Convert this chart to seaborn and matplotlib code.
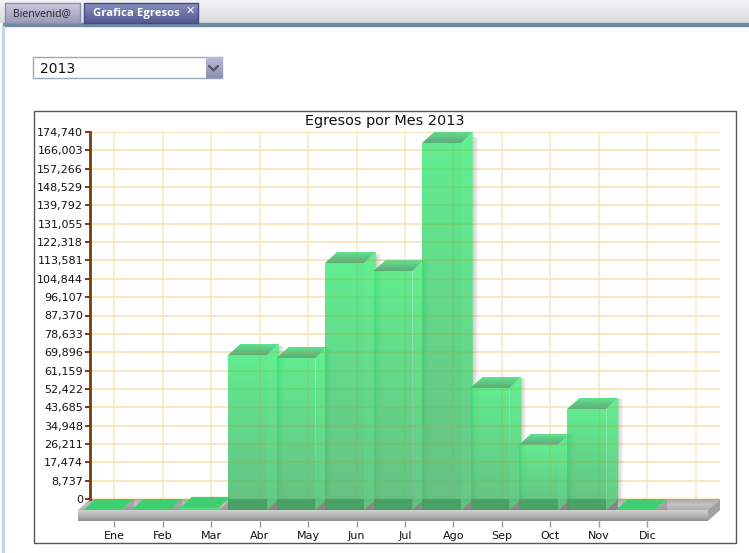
import numpy as np
import pandas as pd
import matplotlib
matplotlib.use("Agg")
import matplotlib.pyplot as plt
from matplotlib.patches import Polygon, Rectangle
from matplotlib.transforms import Affine2D
import seaborn as sns

# data
meses = ["Ene", "Feb", "Mar", "Abr", "May", "Jun", "Jul", "Ago", "Sep", "Oct", "Nov", "Dic"]
egresos = [0, 0, 1000, 73800, 72400, 117600, 113800, 174740, 58100, 31000, 48100, 0]
y_ticks = [0, 8737, 17474, 26211, 34948, 43685, 52422, 61159, 69896, 78633, 87370,
           96107, 104844, 113581, 122318, 131055, 139792, 148529, 157266, 166003, 174740]

W, H = 749, 553
sns.set_style("white")
plt.rcParams["font.family"] = ["DejaVu Sans"]
fig = plt.figure(figsize=(W / 100, H / 100), dpi=100)

# =====================================================
# PAGE CHROME (pixel coordinates)
# =====================================================
bg = fig.add_axes([0, 0, 1, 1], zorder=0)
bg.set_xlim(0, W)
bg.set_ylim(H, 0)
bg.axis("off")


def vgrad(a, x0, x1, y0, y1, c0, c1, z=1, n=32):
    c0 = np.array(matplotlib.colors.to_rgb(c0))
    c1 = np.array(matplotlib.colors.to_rgb(c1))
    t = np.linspace(0, 1, n)[:, None, None]
    img = c0[None, None, :] * (1 - t) + c1[None, None, :] * t
    return a.imshow(img, extent=[x0, x1, y1, y0], aspect="auto", origin="upper", zorder=z)


vgrad(bg, 0, W, 0, 23, "#f2f3f5", "#d9dbde")
bg.add_patch(Rectangle((3, 23), W, 3, color="#6f8ba3", zorder=2))
bg.add_patch(Rectangle((2, 26), 2, H, color="#c5d5e4", zorder=2))
vgrad(bg, 5, 80, 3, 23, "#c9cadb", "#9a9bbb", z=2)
bg.add_patch(Rectangle((5, 3), 75, 20, fill=False, ec="#8a8fa8", lw=1, zorder=3))
vgrad(bg, 84, 198, 3, 23, "#8a8fc0", "#55598f", z=2)
bg.add_patch(Rectangle((84, 3), 114, 20, fill=False, ec="#434a86", lw=1, zorder=3))
bg.text(42, 14, "Bienvenid@", fontsize=7.6, family="Open Sans", color="#222222",
        ha="center", va="center", zorder=4)
bg.text(136.5, 13.5, "Grafica Egresos", fontsize=8.2, family="Open Sans", weight="bold",
        color="white", ha="center", va="center", zorder=4)
bg.text(190.5, 10.5, "✕", fontsize=8, weight="bold", color="white", ha="center", va="center", zorder=4)

bg.add_patch(Rectangle((33, 57), 189, 21, fc="white", ec="#9aa9bc", lw=1, zorder=2))
vgrad(bg, 205.5, 222, 57.5, 78, "#b9bbd3", "#8e90b4", z=3)
bg.plot([209, 213.5, 218], [66, 70.5, 66], color="#555566", lw=1.6, zorder=4)
bg.text(40, 69, "2013", fontsize=10, color="#111111", ha="left", va="center", zorder=4)

bg.add_patch(Rectangle((34, 110.5), 702, 432, fc="white", ec="#555555", lw=1, zorder=2))
bg.set_xlim(0, W)
bg.set_ylim(H, 0)

# =====================================================
# CHART
# =====================================================
PX_L, PX_R, PX_T, PX_B = 90, 720, 132, 499
ax = fig.add_axes([PX_L / W, 1 - PX_B / H, (PX_R - PX_L) / W, (PX_B - PX_T) / H], zorder=2)
ax.patch.set_alpha(0)

df = pd.DataFrame({"mes": meses, "egresos": egresos})
sns.barplot(data=df, x="mes", y="egresos", order=meses, color="#39e673", width=0.8,
            saturation=1, ax=ax)

XMIN, XMAX = -0.5, 12.5
YMAX = y_ticks[-1]
ddx = 12 * (XMAX - XMIN) / (PX_R - PX_L)
ddy = 11 * YMAX / (PX_B - PX_T)

# grid
ax.set_axisbelow(True)
ax.set_xticks(range(13))
ax.set_xticklabels([""] * 13)
ax.set_yticks(y_ticks)
ax.set_yticklabels([f"{v:,}" for v in y_ticks], fontsize=8, color="#111111")
ax.grid(axis="x", color="#fbeccb", lw=1.4, zorder=0)
ax.grid(axis="y", color="#f7e4b2", lw=1.2, zorder=0)
ax.tick_params(axis="x", length=0)
ax.tick_params(axis="y", length=3.5, width=1.4, color="#7a3a10", pad=1.5, left=True)
for s in ["top", "right", "bottom"]:
    ax.spines[s].set_visible(False)
ax.spines["left"].set_color("#7a3a10")
ax.spines["left"].set_linewidth(2)
ax.set_xlabel("")
ax.set_ylabel("")

# month labels sit under the floor
sec = ax.secondary_xaxis(-22 / (PX_B - PX_T))
sec.set_xticks(range(12))
sec.set_xticklabels(meses, fontsize=8, color="#111111")
sec.tick_params(axis="x", length=4, width=1, color="#999999", pad=3)
sec.spines["bottom"].set_visible(False)


def grad_image(img, x0, x1, y0, y1, z, clip=None):
    im = ax.imshow(img, extent=[x0, x1, y0, y1], aspect="auto", origin="upper", zorder=z)
    im.set_clip_box(fig.bbox)
    if clip is not None:
        im.set_clip_path(Polygon(clip, transform=ax.transData))
    else:
        im.set_clip_on(False)
    return im


def gray_strip(c0, c1, c2, n=24):
    t = np.linspace(0, 1, n)[:, None]
    a = np.array(matplotlib.colors.to_rgb(c0))
    b = np.array(matplotlib.colors.to_rgb(c1))
    c = np.array(matplotlib.colors.to_rgb(c2))
    out = np.where(t < 0.5, a + (b - a) * (t * 2), b + (c - b) * (t * 2 - 1))
    return out[:, None, :]


# floor, seen as a plate under the bars
x_l, x_r = XMIN - ddx, XMAX - ddx
floor_top = [(XMIN, 0), (XMAX, 0), (x_r, -ddy), (x_l, -ddy)]
grad_image(gray_strip("#a8a8a8", "#c4c4c4", "#b0b0b0"), x_l, XMAX, -ddy, 0, 1.0, clip=floor_top)
grad_image(gray_strip("#cfcfcf", "#b6b6b6", "#909090"), x_l, x_r, -2 * ddy, -ddy, 1.0)
floor_end = [(x_r, -ddy), (XMAX, 0), (XMAX, -ddy), (x_r, -2 * ddy)]
ax.add_patch(Polygon(floor_end, fc="#a2a2a2", ec="none", zorder=1.0, clip_on=False))

# front faces from seaborn, then depth faces around them
shade_n = 40
for i, (bar, v) in enumerate(zip(ax.patches, egresos)):
    x0, w = bar.get_x(), bar.get_width()
    x1 = x0 + w
    z = 2 + i * 0.1
    fx0, fx1 = x0 - ddx, x1 - ddx
    fy0, fy1 = -ddy, v - ddy

    # shadow the bar throws on the floor
    ax.add_patch(Polygon([(fx1, fy0), (x1, fy0), (x1, 0)], fc="#777777", ec="none",
                         alpha=0.75 if v > 5000 else 0.35, zorder=z - 0.06, clip_on=False))

    # soft shadow on the right of each bar
    if v > 5000:
        sh = np.zeros((1, 12, 4))
        sh[..., :3] = 0.35
        sh[..., 3] = np.linspace(0.28, 0, 12)
        grad_image(sh, x1, x1 + 0.11, 0, v * 0.985, z - 0.05)

    bar.set_transform(Affine2D().translate(-ddx, -ddy) + ax.transData)
    bar.set_clip_on(False)
    bar.set_alpha(0.80)
    bar.set_edgecolor("none")
    bar.set_zorder(z + 0.02)

    top = [(fx0, fy1), (fx1, fy1), (x1, v), (x0, v)]
    if v > 5000:
        # side face, only a little lighter than the front
        side = [(fx1, fy0), (x1, 0), (x1, v), (fx1, fy1)]
        ax.add_patch(Polygon(side, fc="#3cea76", ec="none", alpha=0.80, zorder=z, clip_on=False))
        yy = np.linspace(0, 1, shade_n)[:, None, None]
        img = np.zeros((shade_n, 1, 4))
        img[..., 0], img[..., 1], img[..., 2] = 0.42, 0.62, 0.48
        img[..., 3:] = 0.48 * yy
        grad_image(img, fx1, x1, fy0, v, z + 0.01, clip=side)

        # top face, grey-green towards the front
        ax.add_patch(Polygon(top, fc="#4fdd82", ec="none", alpha=0.9, zorder=z + 0.03, clip_on=False))
        img = np.zeros((12, 1, 4))
        img[..., 0], img[..., 1], img[..., 2] = 0.36, 0.55, 0.42
        img[:, 0, 3] = np.linspace(0, 0.6, 12)
        grad_image(img, fx0, x1, fy1, v, z + 0.04, clip=top)

        # front face goes greyer downwards
        img = np.zeros((shade_n, 1, 4))
        img[..., 0], img[..., 1], img[..., 2] = 0.42, 0.60, 0.47
        img[..., 3:] = 0.52 * yy
        grad_image(img, fx0, fx1, fy0, fy1, z + 0.025)

        # darker foot where the bar crosses the floor
        ax.add_patch(Rectangle((fx0, fy0), w, ddy, fc="#1f6f3c", ec="none", alpha=0.32,
                               zorder=z + 0.03, clip_on=False))

        # the grid shows through the translucent bars
        seen_y = [t for t in y_ticks if 0 < t < v]
        ax.hlines(seen_y, fx0, x1, color="#b8a850", lw=1, alpha=0.22, zorder=z + 0.05)
        seen_x = [k for k in range(13) if fx0 < k < x1]
        ax.vlines(seen_x, 0, v, color="#b8a850", lw=1, alpha=0.18, zorder=z + 0.05)
    else:
        ax.add_patch(Polygon(top, fc="#3fcf70", ec="none", zorder=z + 0.03, clip_on=False))

ax.set_xlim(XMIN, XMAX)
ax.set_ylim(0, YMAX)

bg.text(385, 121.5, "Egresos por Mes 2013", fontsize=10.4, color="#111111",
        ha="center", va="center", zorder=5)

fig.savefig("out.png", dpi=100)
